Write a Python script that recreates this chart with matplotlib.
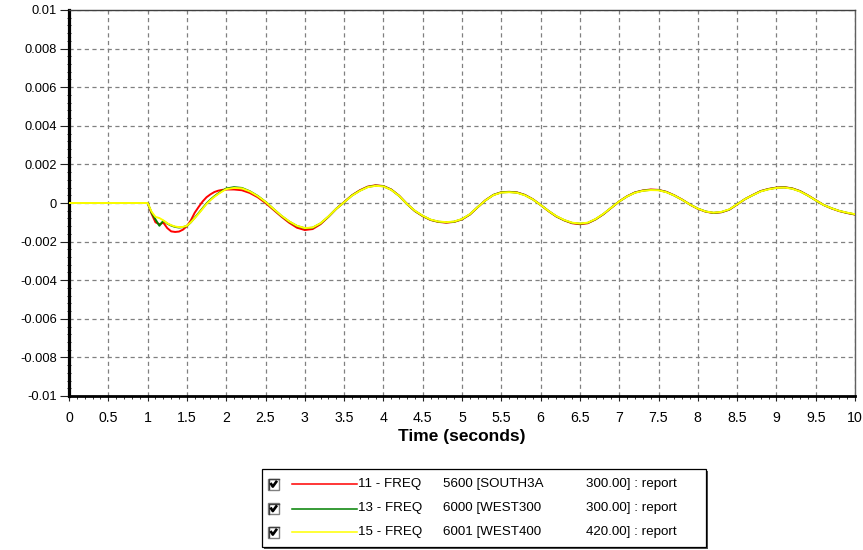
import matplotlib
matplotlib.use("Agg")
import matplotlib.pyplot as plt
import numpy as np
from matplotlib.patches import Rectangle
from matplotlib.lines import Line2D
from matplotlib.ticker import MultipleLocator, FixedLocator, FixedFormatter

plt.rcParams["font.family"] = ["Liberation Sans", "DejaVu Sans"]
plt.rcParams["lines.scale_dashes"] = False

# Simulation time samples (seconds)
time_s = [
    0.0, 1.0, 1.05, 1.1, 1.15, 1.2, 1.25, 1.3, 1.35, 1.4, 1.45, 1.5, 1.55, 1.6,
    1.65, 1.7, 1.75, 1.8, 1.85, 1.9, 1.95, 2.0,
    2.1, 2.2, 2.3, 2.4, 2.5, 2.6, 2.7, 2.8, 2.9, 3.0,
    3.1, 3.2, 3.3, 3.4, 3.5, 3.6, 3.7, 3.8, 3.9, 4.0,
    4.1, 4.2, 4.3, 4.4, 4.5, 4.6, 4.7, 4.8, 4.9, 5.0,
    5.1, 5.2, 5.3, 5.4, 5.5, 5.6, 5.7, 5.8, 5.9, 6.0,
    6.1, 6.2, 6.3, 6.4, 6.5, 6.6, 6.7, 6.8, 6.9, 7.0,
    7.1, 7.2, 7.3, 7.4, 7.5, 7.6, 7.7, 7.8, 7.9, 8.0,
    8.1, 8.2, 8.3, 8.4, 8.5, 8.6, 8.7, 8.8, 8.9, 9.0,
    9.1, 9.2, 9.3, 9.4, 9.5, 9.6, 9.7, 9.8, 9.9, 10.0,
]

# Frequency deviation per bus, in thousandths of pu
freq_5600_south3a = [
    0.0, 0.0, -0.55, -1.0, -1.1, -1.02, -1.3, -1.47, -1.5, -1.48, -1.38, -1.2, -0.9, -0.5,
    -0.2, 0.08, 0.3, 0.45, 0.57, 0.64, 0.68, 0.7,
    0.7, 0.66, 0.52, 0.3, 0.0, -0.35, -0.7, -1.02, -1.28, -1.4,
    -1.35, -1.1, -0.72, -0.3, 0.05, 0.4, 0.66, 0.85, 0.92, 0.88,
    0.7, 0.38, -0.05, -0.42, -0.68, -0.88, -0.98, -1.02, -0.98, -0.85,
    -0.6, -0.22, 0.15, 0.42, 0.56, 0.58, 0.55, 0.42, 0.2, -0.1,
    -0.42, -0.7, -0.9, -1.05, -1.1, -1.05, -0.85, -0.58, -0.25, 0.08,
    0.35, 0.55, 0.65, 0.7, 0.68, 0.58, 0.4, 0.18, -0.08, -0.3,
    -0.45, -0.52, -0.48, -0.35, -0.08, 0.2, 0.42, 0.62, 0.73, 0.8,
    0.82, 0.76, 0.62, 0.4, 0.15, -0.1, -0.28, -0.42, -0.52, -0.6,
]

freq_6000_west300 = [
    0.0, 0.0, -0.5, -0.85, -1.18, -0.92, -1.07, -1.17, -1.24, -1.27, -1.25, -1.19, -1.0, -0.76,
    -0.52, -0.27, -0.02, 0.18, 0.35, 0.5, 0.63, 0.75,
    0.82, 0.78, 0.61, 0.37, 0.06, -0.3, -0.66, -0.96, -1.19, -1.31,
    -1.28, -1.06, -0.71, -0.3, 0.04, 0.39, 0.64, 0.83, 0.9, 0.87,
    0.69, 0.37, -0.05, -0.41, -0.67, -0.87, -0.97, -1.0, -0.97, -0.84,
    -0.59, -0.21, 0.14, 0.42, 0.55, 0.57, 0.54, 0.41, 0.19, -0.1,
    -0.41, -0.69, -0.89, -1.03, -1.07, -1.03, -0.84, -0.57, -0.24, 0.08,
    0.34, 0.54, 0.64, 0.68, 0.67, 0.57, 0.39, 0.17, -0.08, -0.29,
    -0.44, -0.51, -0.47, -0.34, -0.07, 0.2, 0.41, 0.61, 0.72, 0.79,
    0.81, 0.75, 0.61, 0.39, 0.14, -0.1, -0.27, -0.41, -0.51, -0.59,
]

freq_6001_west400 = [
    0.0, 0.0, -0.45, -0.72, -0.78, -0.9, -1.05, -1.15, -1.22, -1.25, -1.24, -1.18, -1.0, -0.78,
    -0.55, -0.3, -0.05, 0.15, 0.32, 0.47, 0.6, 0.72,
    0.78, 0.76, 0.6, 0.36, 0.06, -0.3, -0.65, -0.95, -1.18, -1.3,
    -1.27, -1.05, -0.7, -0.3, 0.04, 0.38, 0.63, 0.82, 0.89, 0.86,
    0.68, 0.37, -0.05, -0.4, -0.66, -0.86, -0.96, -0.99, -0.96, -0.83,
    -0.58, -0.21, 0.14, 0.41, 0.54, 0.56, 0.53, 0.4, 0.19, -0.1,
    -0.41, -0.68, -0.88, -1.02, -1.06, -1.02, -0.83, -0.56, -0.24, 0.08,
    0.34, 0.53, 0.63, 0.67, 0.66, 0.56, 0.39, 0.17, -0.08, -0.29,
    -0.44, -0.5, -0.46, -0.33, -0.07, 0.2, 0.41, 0.6, 0.71, 0.78,
    0.8, 0.74, 0.6, 0.39, 0.14, -0.1, -0.27, -0.41, -0.5, -0.58,
]

series_labels = [
    ("11 - FREQ", "5600 [SOUTH3A", "300.00] : report"),
    ("13 - FREQ", "6000 [WEST300", "300.00] : report"),
    ("15 - FREQ", "6001 [WEST400", "420.00] : report"),
]
series_colors = ["#ff0000", "#008000", "#ffff00"]

x_ticks = [0, 0.5, 1, 1.5, 2, 2.5, 3, 3.5, 4, 4.5, 5, 5.5, 6, 6.5, 7, 7.5, 8, 8.5, 9, 9.5, 10]
x_tick_labels = ["0", "0.5", "1", "1.5", "2", "2.5", "3", "3.5", "4", "4.5", "5",
                 "5.5", "6", "6.5", "7", "7.5", "8", "8.5", "9", "9.5", "10"]
y_ticks = [0.01, 0.008, 0.006, 0.004, 0.002, 0.0, -0.002, -0.004, -0.006, -0.008, -0.01]
y_tick_labels = ["0.01", "0.008", "0.006", "0.004", "0.002", "0",
                 "-0.002", "-0.004", "-0.006", "-0.008", "-0.01"]

W, H = 863, 550
fig = plt.figure(figsize=(W / 100, H / 100), dpi=100)
fig.patch.set_facecolor("white")

ax_l, ax_r, ax_t, ax_b = 69, 855, 10, 396
ax = fig.add_axes([ax_l / W, 1 - ax_b / H, (ax_r - ax_l) / W, (ax_b - ax_t) / H])

t = np.array(time_s)
all_series = [freq_5600_south3a, freq_6000_west300, freq_6001_west400]
for vals, color in zip(all_series, series_colors):
    ax.plot(t, np.array(vals) * 1e-3, color=color, lw=1.4, zorder=3,
            solid_joinstyle="round")

ax.set_xlim(0, 10)
ax.set_ylim(-0.01, 0.01)

ax.xaxis.set_major_locator(FixedLocator(x_ticks))
ax.xaxis.set_major_formatter(FixedFormatter(x_tick_labels))
ax.xaxis.set_minor_locator(MultipleLocator(0.1))
ax.yaxis.set_major_locator(FixedLocator(y_ticks))
ax.yaxis.set_major_formatter(FixedFormatter(y_tick_labels))
ax.yaxis.set_minor_locator(MultipleLocator(0.0004))

ax.grid(True, which="major", color="#808080", lw=0.9, linestyle=(0, (3, 2.5)))
ax.set_axisbelow(True)

ax.tick_params(axis="x", which="major", direction="out", length=3.5, width=0.8,
               pad=7, labelsize=10.2, colors="#222222")
ax.tick_params(axis="x", which="minor", direction="out", length=2, width=0.7,
               colors="#333333")
ax.tick_params(axis="y", which="major", direction="out", length=6.5, width=0.8,
               pad=2, labelsize=9.3, colors="#222222")
ax.tick_params(axis="y", which="minor", direction="inout", length=3, width=0.7,
               colors="#333333")
for lbl in ax.get_xticklabels() + ax.get_yticklabels():
    lbl.set_color("black")

ax.spines["left"].set_linewidth(2.3)
ax.spines["left"].set_color("black")
ax.spines["bottom"].set_linewidth(2.0)
ax.spines["bottom"].set_color("black")
ax.spines["top"].set_linewidth(1.0)
ax.spines["top"].set_color("#404040")
ax.spines["right"].set_linewidth(1.0)
ax.spines["right"].set_color("#606060")

ax.set_xlabel("Time (seconds)", fontsize=12.5, fontweight="bold", labelpad=3)

# Legend panel with check boxes, drawn in pixel coordinates
lg = fig.add_axes([0, 0, 1, 1], zorder=10)
lg.set_xlim(0, W)
lg.set_ylim(H, 0)
lg.axis("off")
lg.patch.set_alpha(0)

box_x0, box_y0, box_x1, box_y1 = 262, 469, 706, 547
lg.add_patch(Rectangle((box_x0 + 2, box_y0 + 2), box_x1 - box_x0, box_y1 - box_y0,
                       facecolor="#505050", edgecolor="none"))
lg.add_patch(Rectangle((box_x0, box_y0), box_x1 - box_x0, box_y1 - box_y0,
                       facecolor="white", edgecolor="black", lw=0.9))

row_y = [484, 508.5, 532]
for (part1, part2, part3), color, y in zip(series_labels, series_colors, row_y):
    # check box
    lg.add_patch(Rectangle((268, y - 5.5), 11, 11, facecolor="white",
                           edgecolor="#808080", lw=1.0))
    lg.add_line(Line2D([268.5, 268.5, 278.5], [y + 5, y - 5, y - 5],
                       color="#404040", lw=1.0))
    lg.add_line(Line2D([270.5, 272.8, 277], [y - 1.0, y + 2.6, y - 3.2],
                       color="black", lw=1.9, solid_capstyle="butt"))
    # sample line
    lg.add_line(Line2D([292, 357], [y, y], color=color, lw=1.1))
    lg.text(358, y, part1, fontsize=9.6, va="center", ha="left")
    lg.text(443, y, part2, fontsize=9.6, va="center", ha="left")
    lg.text(677, y, part3, fontsize=9.6, va="center", ha="right")

fig.savefig("out.png", dpi=100)
